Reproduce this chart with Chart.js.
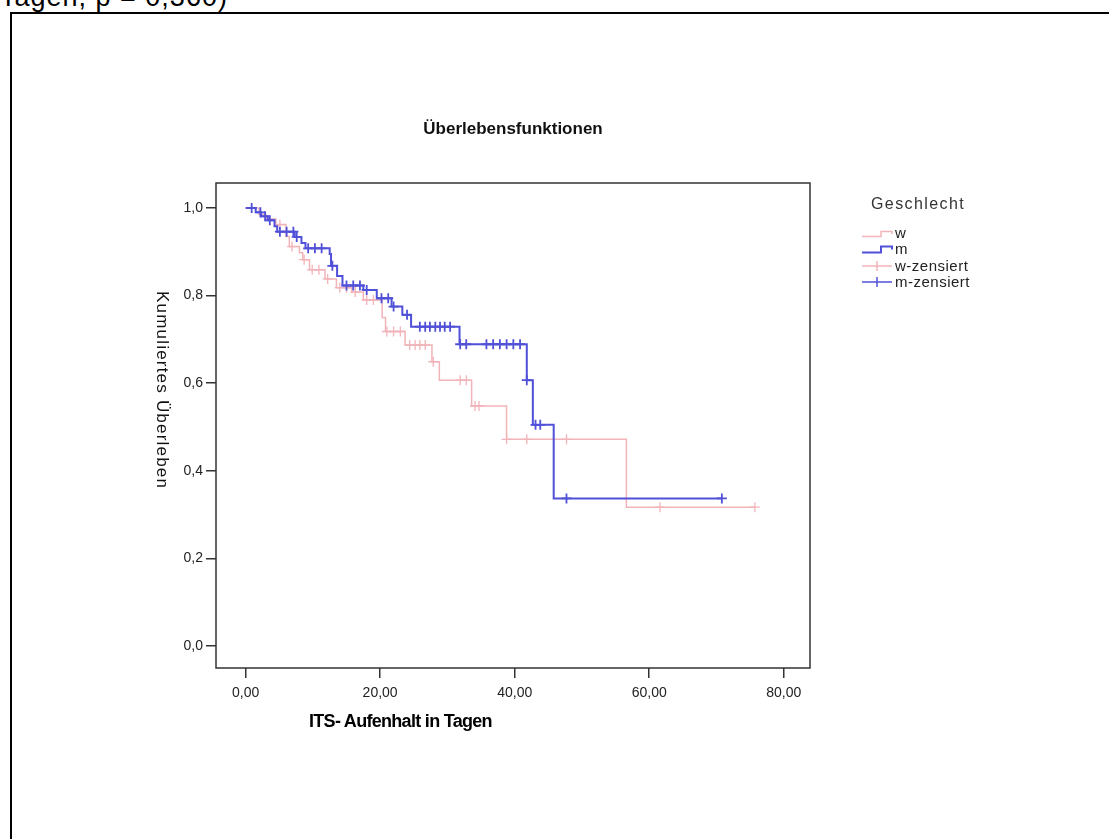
<!DOCTYPE html>
<html>
<head>
<meta charset="utf-8">
<script src="https://cdn.jsdelivr.net/npm/chart.js@4/dist/chart.umd.min.js"></script>
<style>
  html, body { margin: 0; padding: 0; background: #fff; width: 1109px; height: 839px; overflow: hidden; position: relative; font-family: "Liberation Sans", Arial, sans-serif; }
  #frame { position: absolute; left: 10px; top: 12px; width: 1200px; height: 900px; border-left: 2px solid #000; border-top: 2px solid #000; }
  #topText { position: absolute; left: 0px; top: -16px; font-size: 27px; line-height: 27px; letter-spacing: 1px; color: #000; white-space: nowrap; }
  #chartCanvas { position: absolute; left: 0; top: 0; }
  .txt { position: absolute; white-space: nowrap; color: #222; }
  #ytitle { left: 152px; top: 291px; writing-mode: vertical-rl; font-size: 17px; letter-spacing: 1.2px; color: #111; }
  #xtitle { left: 309px; top: 711px; font-size: 18px; font-weight: bold; letter-spacing: -0.7px; color: #000; }
  #legTitle { left: 871px; top: 195px; font-size: 16px; letter-spacing: 1.4px; line-height: 18px; color: #333; }
  .legLab { left: 895px; font-size: 15px; letter-spacing: 0.5px; line-height: 16px; }
  .legIcon { position: absolute; left: 858px; }
</style>
</head>
<body>
<div id="frame"></div>
<div id="topText">Tagen, p = 0,360)</div>
<canvas id="chartCanvas" width="1109" height="839" style="width:1109px;height:839px"></canvas>
<div class="txt" id="ytitle">Kumuliertes Überleben</div>
<div class="txt" id="xtitle">ITS- Aufenhalt in Tagen</div>
<div class="txt" id="legTitle">Geschlecht</div>
<svg class="legIcon" style="top:225px" width="36" height="16"><polyline points="4,11.5 23,11.5 23,6.5 34,6.5 34,9" fill="none" stroke="#f2b4b9" stroke-width="1.5"/></svg>
<div class="txt legLab" style="top:225px">w</div>
<svg class="legIcon" style="top:241px" width="36" height="16"><polyline points="4,11.5 23,11.5 23,5.5 34,5.5 34,8.5" fill="none" stroke="#5050d8" stroke-width="2"/></svg>
<div class="txt legLab" style="top:241px">m</div>
<svg class="legIcon" style="top:258px" width="36" height="16"><line x1="4" y1="8" x2="34" y2="8" stroke="#f2b4b9" stroke-width="1.5"/><line x1="19" y1="3" x2="19" y2="13" stroke="#f2b4b9" stroke-width="1.5"/></svg>
<div class="txt legLab" style="top:258px">w-zensiert</div>
<svg class="legIcon" style="top:274px" width="36" height="16"><line x1="4" y1="8" x2="34" y2="8" stroke="#5050d8" stroke-width="1.5"/><line x1="19" y1="3" x2="19" y2="13" stroke="#5050d8" stroke-width="1.5"/></svg>
<div class="txt legLab" style="top:274px">m-zensiert</div>
<div class="txt" id="mainTitle" style="left:216px;width:594px;top:119px;text-align:center;font-size:17px;font-weight:bold;color:#111;">Überlebensfunktionen</div>
<script>
// ---- Data ----
const chartTitle = "Überlebensfunktionen";
const seriesNames = ["w", "m", "w-zensiert", "m-zensiert"];

// Kaplan-Meier step curve, group m
const mTimes = [0, 1.5, 2.3, 3.3, 4.3, 4.7, 7.3, 8.3, 8.9, 12.5, 12.7, 13.6, 14.4, 17.5, 19.5, 21.7, 23.3, 24.6, 31.8, 41.8, 42.7, 45.8, 70.8];
const mSurv  = [1.0, 0.990, 0.981, 0.972, 0.958, 0.946, 0.934, 0.920, 0.908, 0.895, 0.868, 0.845, 0.823, 0.813, 0.794, 0.775, 0.756, 0.729, 0.689, 0.607, 0.505, 0.337, 0.337];

// censored cases, group m
const mCensTimes = [0.9, 2.2, 2.9, 3.6, 5.1, 6.1, 7.1, 7.6, 9.3, 10.3, 11.3, 12.9, 15.0, 16.0, 17.0, 18.0, 20.2, 21.2, 22.0, 24.0, 25.9, 26.7, 27.4, 28.2, 28.9, 29.6, 30.4, 31.9, 32.8, 35.8, 36.8, 37.8, 38.8, 39.8, 40.8, 41.8, 43.1, 43.8, 47.7, 70.8];
const mCensSurv  = [1.0, 0.990, 0.981, 0.972, 0.946, 0.946, 0.946, 0.934, 0.908, 0.908, 0.908, 0.868, 0.823, 0.823, 0.823, 0.813, 0.794, 0.794, 0.775, 0.756, 0.729, 0.729, 0.729, 0.729, 0.729, 0.729, 0.729, 0.689, 0.689, 0.689, 0.689, 0.689, 0.689, 0.689, 0.689, 0.607, 0.505, 0.505, 0.337, 0.337];

// Kaplan-Meier step curve, group w
const wTimes = [0, 2.0, 3.0, 4.5, 6.0, 6.5, 8.0, 8.5, 9.5, 11.8, 13.5, 15.8, 17.5, 20.3, 20.8, 23.7, 27.7, 28.8, 33.6, 38.8, 56.6, 75.7];
const wSurv  = [1.0, 0.985, 0.975, 0.962, 0.935, 0.912, 0.898, 0.882, 0.859, 0.838, 0.818, 0.808, 0.790, 0.750, 0.718, 0.687, 0.649, 0.607, 0.548, 0.472, 0.317, 0.317];

// censored cases, group w
const wCensTimes = [5.1, 6.9, 8.7, 9.9, 10.9, 12.2, 14.0, 15.0, 16.3, 18.0, 19.0, 21.0, 22.0, 23.0, 24.4, 25.2, 25.9, 26.7, 27.9, 31.9, 32.8, 34.1, 34.7, 38.8, 41.8, 47.7, 61.6, 75.7];
const wCensSurv  = [0.962, 0.912, 0.882, 0.859, 0.859, 0.838, 0.818, 0.818, 0.808, 0.790, 0.790, 0.718, 0.718, 0.718, 0.687, 0.687, 0.687, 0.687, 0.649, 0.607, 0.607, 0.548, 0.548, 0.472, 0.472, 0.472, 0.317, 0.317];

// axis ticks
const xTickValues = [0, 20, 40, 60, 80];
const xTickLabels = ["0,00", "20,00", "40,00", "60,00", "80,00"];
const yTickValues = [0, 0.2, 0.4, 0.6, 0.8, 1.0];
const yTickLabels = ["0,0", "0,2", "0,4", "0,6", "0,8", "1,0"];

// ---- Styles ----
const blue = "#5050d8";
const pink = "#f2b4b9";

function pts(xs, ys) { return xs.map((x, i) => ({ x: x, y: ys[i] })); }

const frameBox = {
  id: "frameBox",
  afterDraw(chart) {
    const a = chart.chartArea, ctx = chart.ctx;
    ctx.save();
    ctx.strokeStyle = "#333";
    ctx.lineWidth = 1.5;
    ctx.strokeRect(a.left, a.top, a.right - a.left, a.bottom - a.top);
    ctx.restore();
  }
};

new Chart(document.getElementById("chartCanvas"), {
  type: "line",
  data: {
    datasets: [
      { label: seriesNames[3], data: pts(mCensTimes, mCensSurv), showLine: false, pointStyle: "cross", pointRadius: 5, pointBorderWidth: 1.8, pointBorderColor: blue, borderColor: blue, backgroundColor: blue, order: 0 },
      { label: seriesNames[1], data: pts(mTimes, mSurv), stepped: true, borderColor: blue, borderWidth: 2, pointRadius: 0, fill: false, order: 1 },
      { label: seriesNames[2], data: pts(wCensTimes, wCensSurv), showLine: false, pointStyle: "cross", pointRadius: 5, pointBorderWidth: 1.3, pointBorderColor: pink, borderColor: pink, backgroundColor: pink, order: 2 },
      { label: seriesNames[0], data: pts(wTimes, wSurv), stepped: true, borderColor: pink, borderWidth: 1.5, pointRadius: 0, fill: false, order: 3 }
    ]
  },
  options: {
    responsive: false,
    devicePixelRatio: 1,
    animation: false,
    layout: { padding: { left: 156, right: 299, top: 183, bottom: 131 } },
    plugins: {
      legend: { display: false },
      tooltip: { enabled: false },
      title: { display: false, text: chartTitle }
    },
    scales: {
      x: {
        type: "linear",
        min: -4.4,
        max: 83.9,
        afterFit(s) { s.height = 40; },
        afterBuildTicks(s) { s.ticks = xTickValues.map(v => ({ value: v })); },
        border: { display: false },
        grid: { drawOnChartArea: false, drawTicks: true, tickLength: 10, color: "#333", lineWidth: 1.5 },
        ticks: {
          padding: 7,
          color: "#222",
          font: { family: "'Liberation Sans', Arial, sans-serif", size: 14 },
          maxRotation: 0,
          callback: (v, i) => xTickLabels[i]
        }
      },
      y: {
        type: "linear",
        min: -0.05,
        max: 1.057,
        afterFit(s) { s.width = 60; },
        afterBuildTicks(s) { s.ticks = yTickValues.map(v => ({ value: v })); },
        border: { display: false },
        grid: { drawOnChartArea: false, drawTicks: true, tickLength: 10, color: "#333", lineWidth: 1.5 },
        ticks: {
          padding: 3,
          color: "#222",
          font: { family: "'Liberation Sans', Arial, sans-serif", size: 14 },
          callback: (v, i) => yTickLabels[i]
        }
      }
    }
  },
  plugins: [frameBox]
});
</script>
</body>
</html>
